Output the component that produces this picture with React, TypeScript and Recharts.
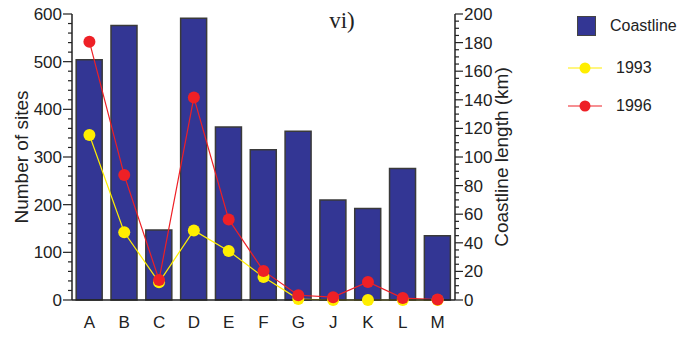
import { ComposedChart, Bar, Line, XAxis, YAxis } from 'recharts'

const sites = ['A', 'B', 'C', 'D', 'E', 'F', 'G', 'J', 'K', 'L', 'M']
const coastlineKm = [168, 192, 49, 197, 121, 105, 118, 70, 64, 92, 45]
const sites1993 = [346, 142, 37, 146, 103, 48, 2, 0, 0, 0, 0]
const sites1996 = [542, 262, 42, 425, 169, 61, 10, 6, 38, 4, 1]

const siteLabels = [0, 100, 200, 300, 400, 500, 600]
const kmLabels = [0, 20, 40, 60, 80, 100, 120, 140, 160, 180, 200]
const siteTicks = Array.from({ length: 31 }, (_, i) => i * 20)
const kmTicks = Array.from({ length: 41 }, (_, i) => i * 5)

const data = sites.map((site, i) => ({
  site,
  coastline: coastlineKm[i],
  y1993: sites1993[i],
  y1996: sites1996[i],
}))

const FONT = '"Liberation Sans", Arial, sans-serif'
const INK = '#222'
const BAR_FILL = '#333694'
const YELLOW = '#ffee00'
const RED = '#ee2026'

const W = 691
const H = 338
const LEFT_X = 72
const RIGHT_X = 455

function SiteTick({ y, payload }: any) {
  const major = siteLabels.includes(payload.value)
  return (
    <g>
      <line x1={LEFT_X} x2={LEFT_X - (major ? 9 : 4)} y1={y} y2={y} stroke={INK} strokeWidth={1.2} />
      {major && (
        <text x={LEFT_X - 10} y={y} dy={6} textAnchor="end" fontSize={17} fill={INK} fontFamily={FONT}>
          {payload.value}
        </text>
      )}
    </g>
  )
}

function KmTick({ y, payload }: any) {
  const major = kmLabels.includes(payload.value)
  return (
    <g>
      <line x1={RIGHT_X} x2={RIGHT_X + (major ? 8 : 4)} y1={y} y2={y} stroke={INK} strokeWidth={1.2} />
      {major && (
        <text x={RIGHT_X + 9} y={y} dy={6} textAnchor="start" fontSize={17} fill={INK} fontFamily={FONT}>
          {payload.value}
        </text>
      )}
    </g>
  )
}

function LegendBox() {
  const row = { display: 'flex', alignItems: 'center', height: 20 } as const
  return (
    <div style={{ position: 'absolute', left: 568, top: 16, fontFamily: FONT, fontSize: 16, color: INK }}>
      <div style={row}>
        <div style={{ width: 17, height: 18, marginLeft: 9, background: BAR_FILL, border: '1.5px solid #444' }} />
        <span style={{ marginLeft: 14 }}>Coastline</span>
      </div>
      <div style={{ ...row, marginTop: 22 }}>
        <svg width={34} height={14}>
          <line x1={0} x2={34} y1={7} y2={7} stroke={YELLOW} strokeWidth={1.2} />
          <circle cx={17} cy={7} r={5.5} fill={YELLOW} />
        </svg>
        <span style={{ marginLeft: 14 }}>1993</span>
      </div>
      <div style={{ ...row, marginTop: 18 }}>
        <svg width={34} height={14}>
          <line x1={0} x2={34} y1={7} y2={7} stroke={RED} strokeWidth={1.2} />
          <circle cx={17} cy={7} r={5.5} fill={RED} />
        </svg>
        <span style={{ marginLeft: 14 }}>1996</span>
      </div>
    </div>
  )
}

export default function App() {
  return (
    <div style={{ position: 'absolute', left: 0, top: 0, width: W, height: H, background: '#fff' }}>
      <ComposedChart
        width={W}
        height={H}
        data={data}
        margin={{ top: 14, right: W - RIGHT_X - 60, bottom: 10, left: 0 }}
        barCategoryGap="12%"
      >
        <XAxis
          dataKey="site"
          axisLine={{ stroke: INK, strokeWidth: 1.5 }}
          tickLine={false}
          tick={{ fontSize: 17, fill: INK, fontFamily: FONT }}
          tickMargin={10}
          height={28}
        />
        <YAxis
          yAxisId="sites"
          orientation="left"
          width={LEFT_X}
          domain={[0, 600]}
          ticks={siteTicks}
          interval={0}
          axisLine={{ stroke: INK, strokeWidth: 1.5 }}
          tickLine={false}
          tick={<SiteTick />}
          label={{
            value: 'Number of sites',
            angle: -90,
            position: 'insideLeft',
            offset: 21,
            style: { textAnchor: 'middle', fontSize: 19, fill: INK, fontFamily: FONT },
          }}
        />
        <YAxis
          yAxisId="km"
          orientation="right"
          width={60}
          domain={[0, 200]}
          ticks={kmTicks}
          interval={0}
          axisLine={{ stroke: INK, strokeWidth: 1.5 }}
          tickLine={false}
          tick={<KmTick />}
          label={{
            value: 'Coastline length (km)',
            angle: -90,
            position: 'insideRight',
            offset: 14,
            style: { textAnchor: 'middle', fontSize: 19, fill: INK, fontFamily: FONT },
          }}
        />
        <Bar
          yAxisId="km"
          dataKey="coastline"
          fill={BAR_FILL}
          stroke="#3a3a3a"
          strokeWidth={1.5}
          isAnimationActive={false}
        />
        <Line
          yAxisId="sites"
          dataKey="y1993"
          stroke={YELLOW}
          strokeWidth={1.2}
          dot={{ r: 6, fill: YELLOW, stroke: 'none' }}
          activeDot={false}
          isAnimationActive={false}
        />
        <Line
          yAxisId="sites"
          dataKey="y1996"
          stroke={RED}
          strokeWidth={1.2}
          dot={{ r: 6, fill: RED, stroke: 'none' }}
          activeDot={false}
          isAnimationActive={false}
        />
      </ComposedChart>
      <div
        style={{
          position: 'absolute',
          left: 342,
          top: 8,
          transform: 'translateX(-50%)',
          fontFamily: '"Liberation Serif", "Times New Roman", serif',
          fontSize: 23,
          color: INK,
        }}
      >
        vi)
      </div>
      <LegendBox />
    </div>
  )
}
